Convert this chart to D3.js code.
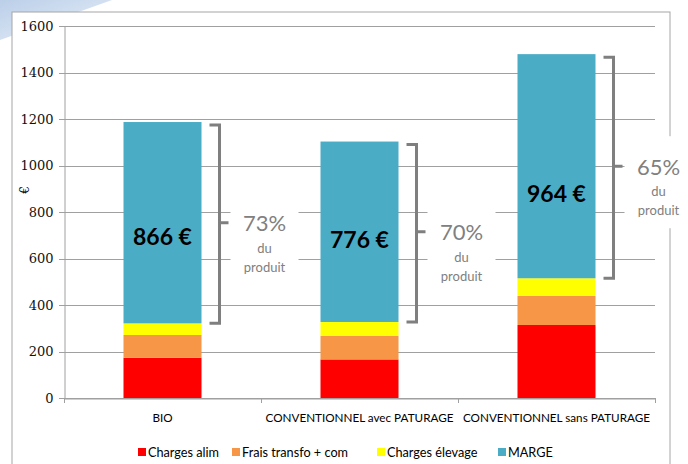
<!DOCTYPE html>
<html><head><meta charset="utf-8">
<script src="https://cdn.jsdelivr.net/npm/d3@7"></script>
<style>
html,body{margin:0;padding:0;background:#fff;}
svg{display:block;}
</style></head>
<body>
<svg id="chart" width="688" height="464"></svg>
<script>
const categories = ["BIO", "CONVENTIONNEL avec PATURAGE", "CONVENTIONNEL sans PATURAGE"];
const seriesNames = ["Charges alim", "Frais transfo + com", "Charges élevage", "MARGE"];
const chargesAlim = [173, 166, 314];
const fraisTransfo = [98, 102, 125];
const chargesElevage = [50, 59, 76];
const marge = [866, 776, 964];
const margeLabels = ["866 €", "776 €", "964 €"];
const pctLabels = ["73%", "70%", "65%"];
const yTicks = [0, 200, 400, 600, 800, 1000, 1200, 1400, 1600];
const colors = ["#FF0000", "#F79646", "#FFFF00", "#4BACC6"];

const svg = d3.select("#chart");
const serif = "'DejaVu Serif','Liberation Serif',serif";

// background decorations
const defs = svg.append("defs");
const g1 = defs.append("linearGradient").attr("id","dec").attr("x1","0").attr("y1","0").attr("x2","1").attr("y2","1");
g1.append("stop").attr("offset","0").attr("stop-color","#aac3e3");
g1.append("stop").attr("offset","1").attr("stop-color","#e4edf8");
svg.append("path").attr("d","M0,0 L112,0 L0,40 Z").attr("fill","url(#dec)").attr("opacity",0.8);

// chart border
svg.append("rect").attr("x",12).attr("y",12).attr("width",658).attr("height",470)
  .attr("fill","#fff").attr("stroke","#a6a6a6").attr("stroke-width",1);

const plot = {left:64, right:655, top:26, bottom:398};
const y = d3.scaleLinear().domain([0,1600]).range([plot.bottom, plot.top]);
const x = d3.scaleBand().domain(categories).range([plot.left, plot.right]).paddingInner(0.604).paddingOuter(0.302);
const xStep = d3.scaleBand().domain(categories).range([plot.left, plot.right]);

// gridlines
svg.append("g").selectAll("line").data(yTicks).join("line")
  .attr("x1", plot.left-5).attr("x2", plot.right)
  .attr("y1", d=>Math.round(y(d))+0.5).attr("y2", d=>Math.round(y(d))+0.5)
  .attr("stroke","#a0a0a0").attr("stroke-width",1);

// y axis
const yAxis = svg.append("g").attr("transform",`translate(${plot.left+0.5},0)`)
  .call(d3.axisLeft(y).tickValues(yTicks).tickFormat(d3.format("d")).tickSize(0).tickPadding(11));
yAxis.attr("font-family", serif).attr("font-size", 13);
yAxis.select(".domain").attr("stroke","#a0a0a0");
yAxis.selectAll("text").style("font-family", serif).style("font-size","13px").attr("fill","#111");

svg.append("text").attr("transform","translate(29,190) rotate(-90)")
  .attr("text-anchor","middle").style("font-family",serif).attr("font-size","12px").text("€");

// x axis
const xAxis = svg.append("g").attr("transform",`translate(0,${Math.round(y(0))+0.5})`)
  .call(d3.axisBottom(xStep).tickSize(0).tickFormat(""));
xAxis.select(".domain").attr("stroke","#a0a0a0");
[plot.left, ...categories.map(c=>xStep(c)+xStep.bandwidth())].forEach(px=>{
  svg.append("line").attr("x1",Math.round(px)+0.5).attr("x2",Math.round(px)+0.5)
    .attr("y1",398).attr("y2",403).attr("stroke","#a0a0a0");
});
svg.append("g").selectAll("text").data(categories).join("text")
  .attr("x", d=>xStep(d)+xStep.bandwidth()/2).attr("y", 422)
  .attr("text-anchor","middle").attr("font-family","Lato, sans-serif").attr("font-size","11.7px")
  .attr("fill","#000").text(d=>d);

// stacked data
const table = categories.map((c,i)=>({cat:c, s0:chargesAlim[i], s1:fraisTransfo[i], s2:chargesElevage[i], s3:marge[i]}));
const stack = d3.stack().keys(["s0","s1","s2","s3"]);
const layers = stack(table);

svg.append("g").selectAll("g").data(layers).join("g")
  .attr("fill",(d,i)=>colors[i])
  .selectAll("rect").data(d=>d).join("rect")
  .attr("x", d=>x(d.data.cat)).attr("width", x.bandwidth())
  .attr("y", d=>y(d[1])).attr("height", d=>y(d[0])-y(d[1]));

// marge labels, brackets, percentages
const mLayer = layers[3];
const labelOffset = [13, 7, 27];
mLayer.forEach((d,i)=>{
  const cat = d.data.cat;
  const bx = x(cat)+x.bandwidth();
  const yt = y(d[1]), yb = y(d[0]);
  const ym = (yt+yb)/2;
  svg.append("text").attr("x", x(cat)+x.bandwidth()/2).attr("y", ym+labelOffset[i])
    .attr("text-anchor","middle").attr("dominant-baseline","central")
    .attr("font-family","Lato, sans-serif").attr("font-weight","bold").attr("font-size","23px")
    .attr("fill","#000").text(margeLabels[i]);
  const vx = bx + 18;
  svg.append("rect").attr("x", vx+11).attr("y", ym-30).attr("width", 68).attr("height", 92).attr("fill","#fff");
  svg.append("path")
    .attr("d", `M${vx-10},${yt+3} L${vx},${yt+3} L${vx},${yb} L${vx-10},${yb} M${vx},${ym} L${vx+9},${ym}`)
    .attr("fill","none").attr("stroke","#7f7f7f").attr("stroke-width",3);
  const cx = vx + 45;
  svg.append("text").attr("x",cx).attr("y",ym).attr("text-anchor","middle").attr("dominant-baseline","central")
    .attr("font-family","Lato, sans-serif").attr("font-size","22px").attr("fill","#808080").text(pctLabels[i]);
  svg.append("text").attr("x",cx).attr("y",ym+25).attr("text-anchor","middle").attr("dominant-baseline","central")
    .attr("font-family","Lato, sans-serif").attr("font-size","13px").attr("fill","#808080").text("du");
  svg.append("text").attr("x",cx).attr("y",ym+44).attr("text-anchor","middle").attr("dominant-baseline","central")
    .attr("font-family","Lato, sans-serif").attr("font-size","13px").attr("fill","#808080").text("produit");
});

// legend
const legendX = [138, 232, 377, 498];
const lg = svg.append("g").selectAll("g").data(seriesNames).join("g")
  .attr("transform",(d,i)=>`translate(${legendX[i]},452)`);
lg.append("rect").attr("x",0).attr("y",-4).attr("width",8).attr("height",8).attr("fill",(d,i)=>colors[i]);
lg.append("text").attr("x",10).attr("y",0).attr("dominant-baseline","central")
  .attr("font-family","Lato, sans-serif").attr("font-size","12.7px").attr("fill","#000").text(d=>d);
</script>
</body></html>
